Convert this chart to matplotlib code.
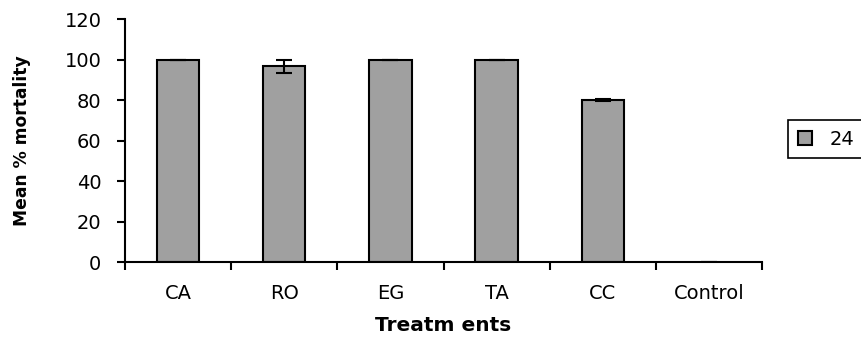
import matplotlib
matplotlib.use('Agg')
import matplotlib.pyplot as plt

treatments = ['CA', 'RO', 'EG', 'TA', 'CC', 'Control']
mortality_24 = [100, 96.7, 100, 100, 80, 0]
errors_24 = [0, 3.3, 0, 0, 0.4, 0]

plt.rcParams['font.family'] = ['DejaVu Sans']

fig = plt.figure(figsize=(8.61, 3.43), dpi=100)
ax = fig.add_axes([0.1452, 0.236, 0.7398, 0.7086])

pos = range(len(treatments))
bars = ax.bar(pos, mortality_24, width=0.4, color='#a0a0a0', edgecolor='black',
              linewidth=1.5, label='24', yerr=errors_24, capsize=6,
              error_kw={'elinewidth': 1.5, 'capthick': 1.5, 'ecolor': 'black'})
# empty bars draw no outline in the original
for b in bars:
    if b.get_height() == 0:
        b.set_linewidth(0)

ax.set_xlim(-0.5, len(treatments) - 0.5)
ax.set_ylim(0, 120)
ax.set_yticks(range(0, 121, 20))

# category labels between the tick marks, like Excel
ax.set_xticks([i + 0.5 for i in range(-1, len(treatments))])
ax.set_xticklabels([])
ax.set_xticks(list(pos), minor=True)
ax.set_xticklabels(treatments, minor=True, fontsize=14)
ax.tick_params(axis='x', which='minor', length=0, pad=16)
ax.tick_params(axis='x', which='major', direction='out', length=6, width=1.5)
ax.tick_params(axis='y', direction='out', length=6, width=1.5, labelsize=14, pad=11)

for s in ['top', 'right']:
    ax.spines[s].set_visible(False)
for s in ['left', 'bottom']:
    ax.spines[s].set_linewidth(1.5)

ax.set_xlabel('Treatm ents', fontsize=14.5, fontweight='bold', labelpad=9)
ax.set_ylabel('Mean % mortality', fontsize=12.3, fontweight='bold', labelpad=24)

leg = fig.legend(loc='upper left', bbox_to_anchor=(0.915, 0.65), fontsize=14,
                 fancybox=False, edgecolor='black', framealpha=1,
                 handlelength=0.75, handleheight=0.75, handletextpad=0.9,
                 borderpad=0.5, borderaxespad=0)
leg.get_frame().set_linewidth(1.2)

fig.savefig('out.png', dpi=100)
